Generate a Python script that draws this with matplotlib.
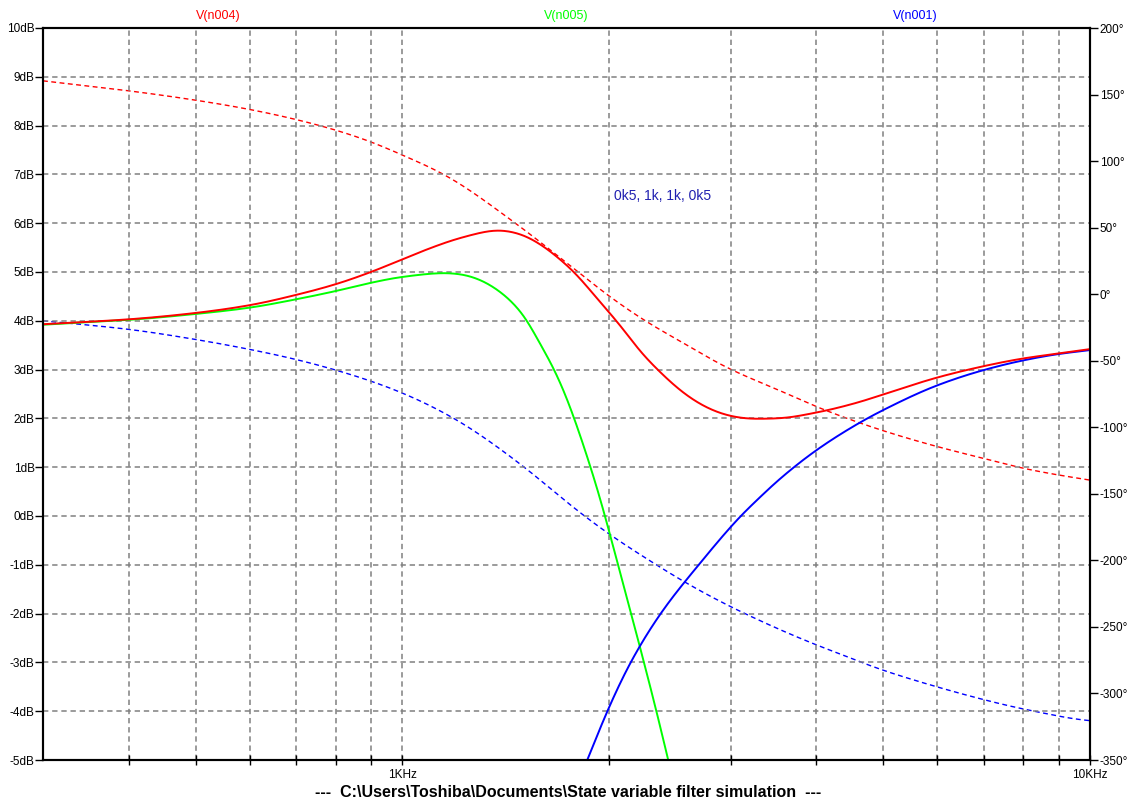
import numpy as np
import matplotlib.pyplot as plt
from matplotlib.ticker import FixedLocator, NullFormatter, FuncFormatter

plt.rcParams['font.family'] = ['Liberation Sans', 'DejaVu Sans']

# V(n004) magnitude (dB) and phase (deg)
f_n004 = [300, 400, 500, 600, 700, 800, 900, 1000, 1093, 1222, 1382, 1477, 1579,
          1689, 1786, 1910, 1996, 2111, 2207, 2334, 2465, 2609, 2800, 2992, 3221,
          3525, 4000, 4607, 5000, 6000, 7000, 8000, 9000, 10000]
db_n004 = [3.93, 4.03, 4.16, 4.32, 4.53, 4.75, 5.0, 5.26, 5.48, 5.71, 5.86, 5.79, 5.59,
           5.28, 4.97, 4.49, 4.18, 3.77, 3.40, 3.04, 2.72, 2.44, 2.19, 2.05, 1.99,
           2.0, 2.12, 2.33, 2.49, 2.84, 3.07, 3.23, 3.33, 3.42]
fp_n004 = [300, 400, 500, 600, 700, 800, 900, 1000, 1150, 1461, 1562, 1786, 1996,
           2283, 2489, 2992, 3297, 3525, 4000, 5000, 6000, 7000, 8000, 9000, 10000]
ph_n004 = [160.3, 152.8, 145.8, 138.8, 131.3, 123.3, 114.5, 104.5, 90.0, 53.2, 41.9,
           18.1, -1.4, -21.9, -33.0, -56.3, -65.8, -72.0, -84.6, -102.6, -114.6,
           -123.4, -130.9, -135.9, -139.7]

# V(n005) magnitude (dB)
f_n005 = [300, 400, 500, 600, 700, 800, 900, 1000, 1156, 1222, 1292, 1367, 1445,
          1512, 1579, 1651, 1727, 1771, 1877, 1942, 2010, 2078, 2156, 2245, 2337,
          2434]
db_n005 = [3.92, 4.02, 4.14, 4.27, 4.44, 4.61, 4.78, 4.90, 4.98, 4.95, 4.85, 4.66,
           4.38, 4.05, 3.57, 3.09, 2.48, 2.07, 1.01, 0.33, -0.45, -1.22, -2.05, -3.0,
           -3.95, -4.99]

# V(n001) magnitude (dB) and phase (deg)
f_n001 = [1857, 1985, 2146, 2373, 2697, 3104, 3297, 3525, 4000, 4607, 5000, 6000,
          7000, 8000, 9000, 10000]
db_n001 = [-5.0, -4.0, -3.0, -2.0, -1.0, 0.0, 0.36, 0.74, 1.35, 1.9, 2.17, 2.68,
           2.99, 3.19, 3.32, 3.40]
fp_n001 = [300, 400, 500, 600, 700, 800, 900, 1000, 1189, 1502, 1718, 1857, 2007,
           2334, 2566, 3000, 4000, 4309, 4897, 5866, 6830, 7781, 8745, 9614, 10000]
ph_n001 = [-20.0, -26.4, -34.0, -41.5, -49.0, -57.0, -65.3, -74.2, -93.3, -129.7,
           -154.6, -168.4, -181.0, -203.0, -216.0, -234.8, -263.6, -269.9, -281.0,
           -293.7, -303.2, -310.4, -315.7, -319.7, -320.5]

db_ticks = list(range(-5, 11))
deg_ticks = list(range(-350, 201, 50))

RED = '#ff0000'
GREEN = '#00ff00'
BLUE = '#0000ff'
GRID = '#808080'


def trace(f, v, sigma=0.01, step=0.001):
    # monotone cubic (Fritsch-Carlson) on log frequency, then a light gaussian smooth
    x = np.log10(np.asarray(f, float))
    y = np.asarray(v, float)
    h = np.diff(x)
    d = np.diff(y) / h
    m = np.zeros_like(y)
    for k in range(1, len(y) - 1):
        if d[k - 1] * d[k] > 0:
            w1 = 2 * h[k] + h[k - 1]
            w2 = h[k] + 2 * h[k - 1]
            m[k] = (w1 + w2) / (w1 / d[k - 1] + w2 / d[k])
    m[0] = d[0]
    m[-1] = d[-1]
    xs = np.arange(x[0], x[-1] + step / 2, step)
    i = np.clip(np.searchsorted(x, xs) - 1, 0, len(x) - 2)
    t = (xs - x[i]) / h[i]
    ys = ((2 * t**3 - 3 * t**2 + 1) * y[i] + (t**3 - 2 * t**2 + t) * h[i] * m[i]
          + (-2 * t**3 + 3 * t**2) * y[i + 1] + (t**3 - t**2) * h[i] * m[i + 1])
    n = int(4 * sigma / step)
    k = np.exp(-0.5 * (np.arange(-n, n + 1) * step / sigma) ** 2)
    k /= k.sum()
    left = ys[0] + (ys[0] - ys[1]) * np.arange(n, 0, -1)
    right = ys[-1] + (ys[-1] - ys[-2]) * np.arange(1, n + 1)
    ys = np.convolve(np.concatenate([left, ys, right]), k, mode='valid')
    return 10**xs, ys


fig = plt.figure(figsize=(11.32, 8.05), dpi=100)
ax = fig.add_axes([43 / 1132, 45 / 805, 1047 / 1132, 732 / 805])
ax2 = ax.twinx()

ax.set_xscale('log')
ax.set_xlim(300, 10000)
ax.set_ylim(-5, 10)
ax2.set_ylim(-350, 200)

dash = (0, (3.5, 2.5))
ax.xaxis.set_major_locator(FixedLocator([1000, 10000]))
ax.xaxis.set_minor_locator(FixedLocator([400, 500, 600, 700, 800, 900, 2000, 3000,
                                         4000, 5000, 6000, 7000, 8000, 9000]))
ax.xaxis.set_major_formatter(FuncFormatter(lambda v, p: '%dKHz' % round(v / 1000)))
ax.xaxis.set_minor_formatter(NullFormatter())
ax.set_yticks(db_ticks)
ax.set_yticklabels(['%ddB' % v for v in db_ticks])
ax2.set_yticks(deg_ticks)
ax2.set_yticklabels(['%d°' % v for v in deg_ticks])

ax.grid(True, which='both', axis='x', color=GRID, linestyle=dash, linewidth=1.1)
ax.grid(True, which='major', axis='y', color=GRID, linestyle=dash, linewidth=1.1)

ax.tick_params(axis='y', direction='out', length=6, width=1, labelsize=8.5, pad=0)
ax.tick_params(axis='x', which='both', direction='inout', length=7, width=1,
               labelsize=8.5, pad=3)
ax2.tick_params(axis='y', direction='out', length=6, width=1, labelsize=8.5, pad=1)
for a in (ax, ax2):
    for s in a.spines.values():
        s.set_linewidth(1.5)
        s.set_color('black')

# phase traces (dashed)
x, y = trace(fp_n004, ph_n004, sigma=0.018)
ax2.plot(x, y, color=RED, lw=1.0, linestyle=dash)
x, y = trace(fp_n001, ph_n001, sigma=0.018)
ax2.plot(x, y, color=BLUE, lw=1.0, linestyle=dash)

# magnitude traces (solid)
ax.set_zorder(ax2.get_zorder() + 1)
ax.patch.set_visible(False)
x, y = trace(f_n005, db_n005)
ax.plot(x, y, color=GREEN, lw=1.4)
x, y = trace(f_n001, db_n001)
ax.plot(x, y, color=BLUE, lw=1.4)
x, y = trace(f_n004, db_n004, sigma=0.012)
ax.plot(x, y, color=RED, lw=1.4)

ax.text(0.545, 0.77, '0k5, 1k, 1k, 0k5', transform=ax.transAxes, color='#2020b0',
        fontsize=10, va='center')

fig.text(218 / 1132, 1 - 16 / 805, 'V(n004)', color=RED, fontsize=9, ha='center', va='center')
fig.text(566 / 1132, 1 - 16 / 805, 'V(n005)', color=GREEN, fontsize=9, ha='center', va='center')
fig.text(915 / 1132, 1 - 16 / 805, 'V(n001)', color=BLUE, fontsize=9, ha='center', va='center')
fig.text(568 / 1132, 1 - 792 / 805,
         '---  C:\\Users\\Toshiba\\Documents\\State variable filter simulation  ---',
         fontsize=11.5, fontweight='bold', ha='center', va='center')

fig.savefig('out.png', dpi=100)
